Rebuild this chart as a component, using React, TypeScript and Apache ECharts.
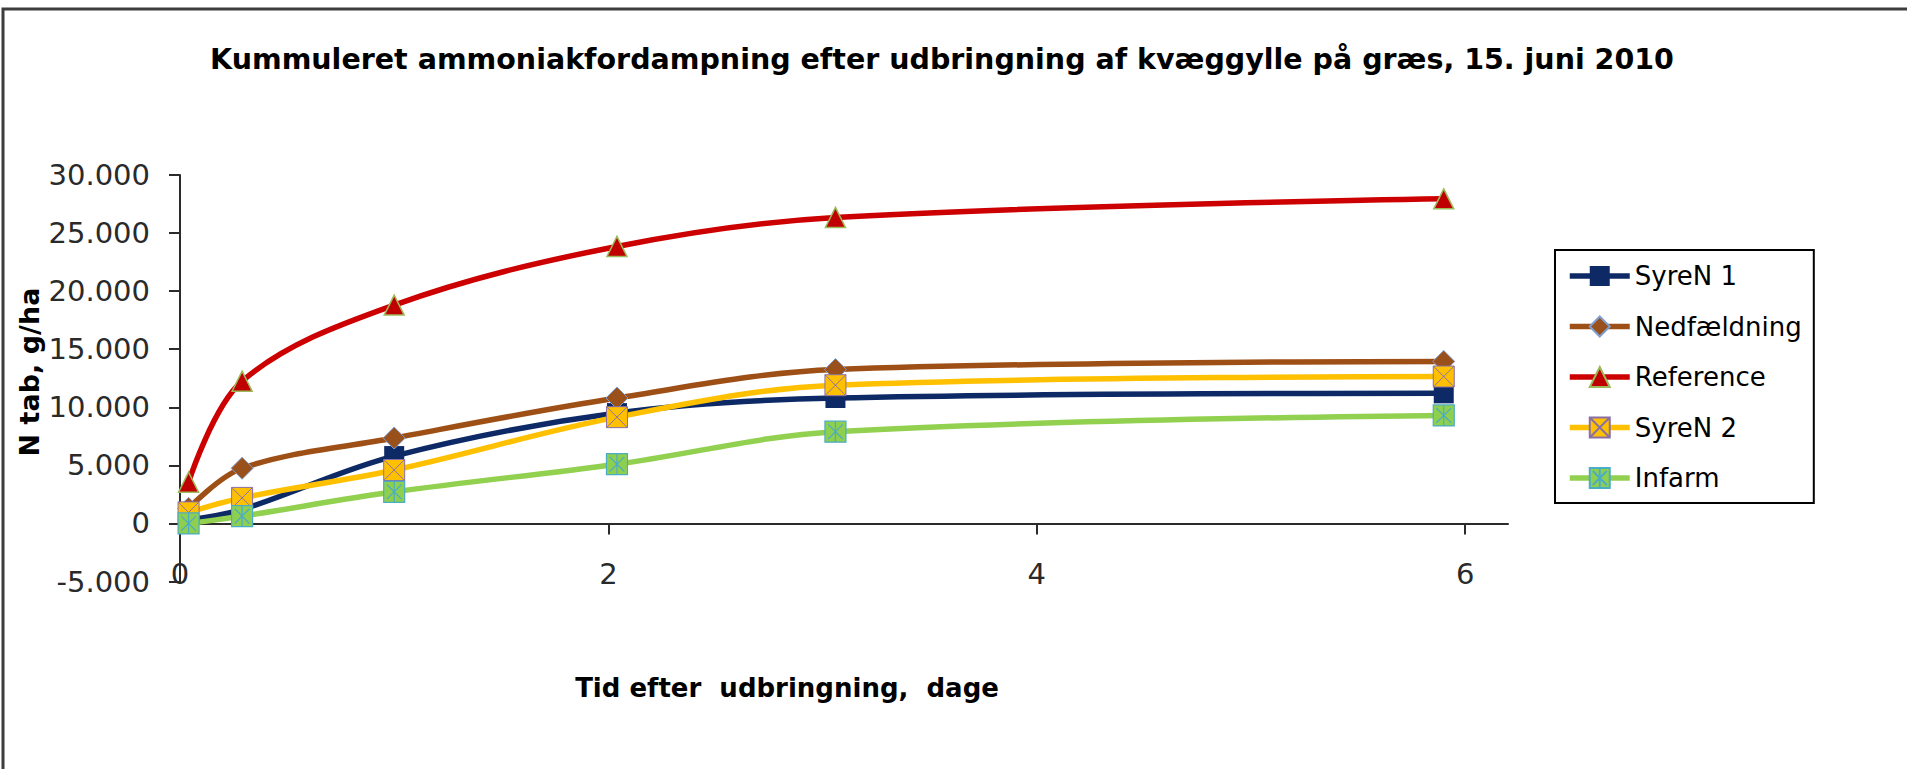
import React, { useEffect, useRef } from "react";
import * as echarts from "echarts";

const titleText = "Kummuleret ammoniakfordampning efter udbringning af kvæggylle på græs, 15. juni 2010";
const xAxisTitle = "Tid efter  udbringning,  dage";
const yAxisTitle = "N tab, g/ha";

const xDays = [0.04, 0.29, 1.0, 2.04, 3.06, 5.9];
const xTicks = [0, 2, 4, 6];

const seriesNames = ["SyreN 1", "Nedfældning", "Reference", "SyreN 2", "Infarm"];
const syreN1 = [300, 1200, 5800, 9500, 10800, 11200];
const nedfaeldning = [1300, 4750, 7350, 10800, 13250, 13950];
const reference = [3550, 12250, 18800, 23850, 26350, 27950];
const syreN2 = [950, 2200, 4600, 9150, 11900, 12650];
const infarm = [0, 630, 2720, 5100, 7900, 9300];

const SQUARE_X = "path://M0,0L20,0L20,20L0,20ZM0,0L20,20M20,0L0,20";
const SQUARE_STAR = "path://M0,0L20,0L20,20L0,20ZM10,0L10,20M3,3L17,17M17,3L3,17";

const fmt = (v: number) => {
  const s = Math.abs(v).toString().replace(/\B(?=(\d{3})+(?!\d))/g, ".");
  return (v < 0 ? "-" : "") + s;
};

const toPairs = (arr: number[]) => xDays.map((x, i) => [x, arr[i]]);

export default function App() {
  const ref = useRef<HTMLDivElement>(null);
  useEffect(() => {
    if (!ref.current) return;
    const chart = echarts.init(ref.current, null, { renderer: "svg" });
    const axisColor = "#2b2b2b";
    const labelFont = { fontFamily: "DejaVu Sans", fontSize: 29, color: "#2a2a2a" };
    const mk = (
      name: string,
      data: number[],
      color: string,
      symbol: string,
      size: number,
      fill: string,
      border: string,
      borderWidth: number
    ) => ({
      name,
      type: "line",
      data: toPairs(data),
      smooth: 0.35,
      symbol,
      symbolSize: size,
      showAllSymbol: true,
      lineStyle: { color, width: 5.5 },
      itemStyle: { color: fill, borderColor: border, borderWidth },
      emphasis: { disabled: true },
    });
    chart.setOption({
      animation: false,
      backgroundColor: "#ffffff",
      grid: { left: 180, right: 399, top: 175, bottom: 187.5, containLabel: false },
      xAxis: {
        type: "value",
        min: 0,
        max: 6.2,
        interval: 2,
        axisLine: { onZero: true, lineStyle: { color: axisColor, width: 2 } },
        axisTick: { show: true, length: 11, customValues: xTicks, lineStyle: { color: axisColor, width: 2 } },
        axisLabel: { margin: -22, customValues: xTicks, ...labelFont },
        splitLine: { show: false },
      },
      yAxis: {
        type: "value",
        min: -5000,
        max: 30000,
        interval: 5000,
        axisLine: { show: true, lineStyle: { color: axisColor, width: 2 } },
        axisTick: { show: true, length: 11, lineStyle: { color: axisColor, width: 2 } },
        axisLabel: { margin: 30, formatter: (v: number) => fmt(v), ...labelFont },
        splitLine: { show: false },
      },
      legend: {
        orient: "vertical",
        left: 1555,
        top: 250,
        padding: [12, 12, 11, 12],
        itemGap: 22.5,
        itemWidth: 60,
        itemHeight: 25,
        borderColor: "#000",
        borderWidth: 2,
        lineStyle: { width: 5.5 },
        data: seriesNames,
        textStyle: { fontFamily: "DejaVu Sans", fontSize: 26, color: "#000", lineHeight: 28 },
      },
      series: [
        mk(seriesNames[0], syreN1, "#0d2a66", "rect", 20, "#0d2a66", "#0d2a66", 0),
        mk(seriesNames[1], nedfaeldning, "#9e4f15", "diamond", 22, "#99501a", "#7f9fd0", 1),
        mk(seriesNames[2], reference, "#cc0000", "triangle", 20, "#c00000", "#9bbb59", 1.5),
        mk(seriesNames[3], syreN2, "#ffc000", SQUARE_X, 21, "#ffc000", "#8a6fa6", 1),
        mk(seriesNames[4], infarm, "#92d050", SQUARE_STAR, 21, "#8fcf4e", "#4bacc6", 1.2),
      ],
      graphic: [
        {
          type: "rect",
          silent: true,
          shape: { x: 3, y: 9, width: 1960, height: 820 },
          style: { fill: "none", stroke: "#3d3d3d", lineWidth: 3 },
        },
        {
          type: "text",
          x: 942,
          y: 59,
          silent: true,
          style: {
            text: titleText,
            textAlign: "center",
            textVerticalAlign: "middle",
            font: 'bold 28.5px "DejaVu Sans"',
            fill: "#000",
          },
        },
        {
          type: "text",
          x: 787,
          y: 688,
          silent: true,
          style: {
            text: xAxisTitle,
            textAlign: "center",
            textVerticalAlign: "middle",
            font: 'bold 26px "DejaVu Sans"',
            fill: "#000",
          },
        },
        {
          type: "text",
          x: 29,
          y: 372,
          rotation: Math.PI / 2,
          silent: true,
          style: {
            text: yAxisTitle,
            textAlign: "center",
            textVerticalAlign: "middle",
            font: 'bold 27px "DejaVu Sans"',
            fill: "#000",
          },
        },
      ],
    });
    return () => chart.dispose();
  }, []);
  return (
    <div
      ref={ref}
      style={{ position: "fixed", left: 0, top: 0, width: "1907px", height: "769px", background: "#fff" }}
    />
  );
}
